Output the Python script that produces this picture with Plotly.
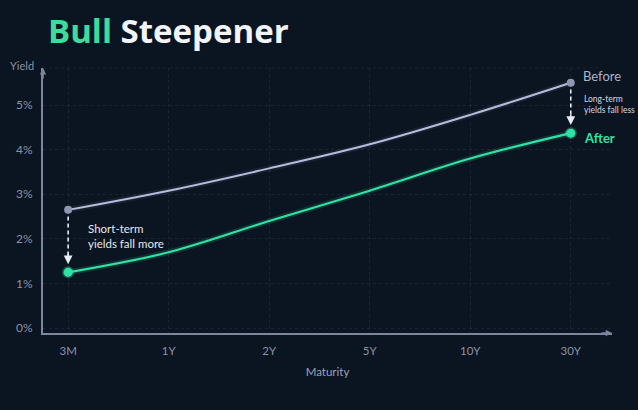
import plotly.graph_objects as go

# maturities on the x axis and yields (%) before / after the move
maturities = ['3M', '1Y', '2Y', '5Y', '10Y', '30Y']
before = [2.65, 3.08, 3.58, 4.12, 4.78, 5.5]
after = [1.25, 1.70, 2.40, 3.08, 3.8, 4.37]
y_ticks = [0, 1, 2, 3, 4, 5]

BG = '#0b1421'
GREEN = '#2fe3a4'
LAV = '#b4bddb'
GREY = '#8d98b0'
AXIS = '#7c879f'
TICK = '#8a93a8'

fig = go.Figure()

# soft glow under each curve
for ys, col in [(before, 'rgba(180,189,219,0.08)'), (after, 'rgba(47,227,164,0.14)')]:
    fig.add_trace(go.Scatter(x=maturities, y=ys, mode='lines', line=dict(color=col, width=6, shape='spline'),
                             hoverinfo='skip', showlegend=False))

fig.add_trace(go.Scatter(x=maturities, y=before, mode='lines', name='Before',
                         line=dict(color=LAV, width=2, shape='spline'), showlegend=False))
fig.add_trace(go.Scatter(x=maturities, y=after, mode='lines', name='After',
                         line=dict(color=GREEN, width=2.2, shape='spline'), showlegend=False))

# end-point markers
ends = [maturities[0], maturities[-1]]
fig.add_trace(go.Scatter(x=ends, y=[before[0], before[-1]], mode='markers',
                         marker=dict(color=GREY, size=8), showlegend=False, hoverinfo='skip'))
fig.add_trace(go.Scatter(x=ends, y=[after[0], after[-1]], mode='markers',
                         marker=dict(color=GREEN, size=9, line=dict(color='rgba(47,227,164,0.35)', width=3)),
                         showlegend=False, hoverinfo='skip'))

# dashed drop lines between before and after
for i in (0, -1):
    fig.add_trace(go.Scatter(x=[maturities[i], maturities[i]], y=[before[i] - 0.15, after[i] + 0.3],
                             mode='lines', line=dict(color='#e8ecf4', width=1.6, dash='4px,3px'),
                             showlegend=False, hoverinfo='skip'))
    fig.add_annotation(x=maturities[i], y=after[i] + 0.18, ax=0, ay=-12, showarrow=True,
                       arrowhead=2, arrowsize=1.1, arrowwidth=1.6, arrowcolor='#e8ecf4', text='')

fig.add_annotation(x=maturities[-1], y=before[-1], text='Before', showarrow=False, xanchor='left',
                   xshift=10, yshift=7, font=dict(color='#aab3cb', size=13))
fig.add_annotation(x=maturities[-1], y=after[-1], text='<b>After</b>', showarrow=False, xanchor='left',
                   xshift=11, yshift=-5, font=dict(color=GREEN, size=13))
fig.add_annotation(x=maturities[-1], y=(before[-1] + after[-1]) / 2 + 0.08, text='Long-term<br>yields fall less',
                   showarrow=False, xanchor='left', xshift=11, align='left',
                   font=dict(color='#d4d9e4', size=8.5))
fig.add_annotation(x=maturities[0], y=(before[0] + after[0]) / 2 + 0.05, text='Short-term<br>yields fall more',
                   showarrow=False, xanchor='left', xshift=18, yshift=3, align='left',
                   font=dict(color='#e4e8ef', size=11.5))

# axis arrows and labels
fig.add_annotation(xref='paper', yref='paper', x=0, y=1, ax=0, ay=12, showarrow=True, arrowhead=2,
                   arrowsize=0.8, arrowwidth=1.6, arrowcolor=AXIS, text='')
fig.add_annotation(xref='paper', yref='paper', x=1, y=0, ax=-12, ay=0, showarrow=True, arrowhead=2,
                   arrowsize=0.8, arrowwidth=1.6, arrowcolor=AXIS, text='')
fig.add_annotation(xref='paper', yref='paper', x=0, y=1, xshift=-7, yshift=3, text='Yield', showarrow=False,
                   xanchor='right', yanchor='middle', font=dict(color=TICK, size=11))

# top dashed border line
fig.add_shape(type='line', xref='paper', yref='paper', x0=0, x1=0.98, y0=1, y1=1,
              line=dict(color='rgba(120,140,170,0.13)', width=1, dash='3px,3px'))

fig.update_layout(
    width=638, height=410,
    paper_bgcolor=BG, plot_bgcolor=BG,
    font=dict(family='Lato, "Open Sans", sans-serif', color=TICK),
    margin=dict(l=43, r=26, t=68, b=77),
    title=dict(text="<b><span style='color:#3ddc9c'>Bull</span> Steepener</b>",
               x=48 / 638, xanchor='left', y=1 - 31 / 410, yanchor='middle',
               font=dict(size=33, color='#f2f4f8', family='"Open Sans", sans-serif')),
    showlegend=False,
)
fig.update_xaxes(type='category', range=[-0.25, 5.41], showline=True, linecolor=AXIS, linewidth=2,
                 showgrid=True, gridcolor='rgba(120,140,170,0.13)', griddash='3px,3px', zeroline=False,
                 ticks='', tickfont=dict(size=11.5, color=TICK), ticklabelstandoff=6,
                 title=dict(text='Maturity', font=dict(size=11.5, color='#9aa3b8'), standoff=12))
fig.update_yaxes(range=[-0.11, 5.83], tickvals=y_ticks, ticktext=[f'{v}%' for v in y_ticks],
                 showline=True, linecolor=AXIS, linewidth=2,
                 showgrid=True, gridcolor='rgba(120,140,170,0.13)', griddash='3px,3px', zeroline=False,
                 ticks='', tickfont=dict(size=12, color=TICK), ticklabelstandoff=6)

fig.write_html('out.html', config={'displayModeBar': False},
               post_script="document.body.style.margin='0';document.body.style.background='#0b1421';")
